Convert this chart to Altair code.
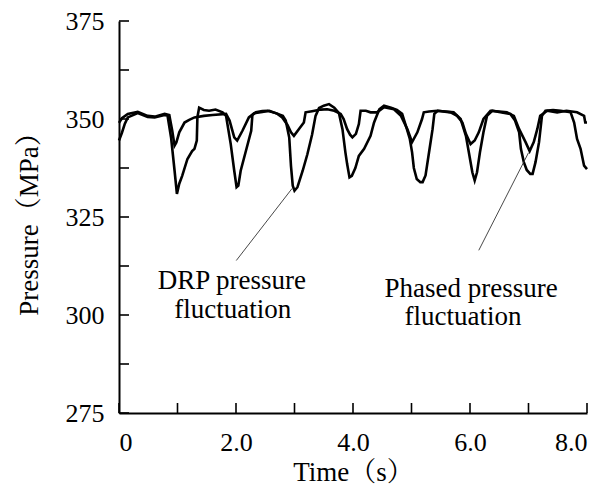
import altair as alt
import pandas as pd

# ---------------- data ----------------
drp_t = [0.00, 0.05, 0.10, 0.15, 0.32, 0.49, 0.61, 0.78, 0.83, 0.89, 0.95, 0.99,
         1.03, 1.08, 1.17, 1.25, 1.29, 1.33, 1.34, 1.37, 1.45, 1.54, 1.65, 1.77,
         1.83, 1.91, 1.97, 2.01, 2.04, 2.08, 2.17, 2.26, 2.28, 2.34, 2.45, 2.54,
         2.68, 2.80, 2.85, 2.91, 2.94, 2.97, 3.00, 3.05, 3.14, 3.22, 3.30, 3.36,
         3.42, 3.50, 3.59, 3.68, 3.76, 3.82, 3.87, 3.90, 3.94, 3.98, 4.04, 4.10,
         4.19, 4.30, 4.36, 4.45, 4.53, 4.65, 4.75, 4.84, 4.92, 4.97, 5.01, 5.04,
         5.09, 5.15, 5.19, 5.24, 5.30, 5.36, 5.39, 5.45, 5.58, 5.72, 5.84, 5.93,
         5.98, 6.04, 6.08, 6.12, 6.17, 6.23, 6.29, 6.38, 6.52, 6.69, 6.77, 6.84,
         6.87, 6.92, 6.97, 7.03, 7.07, 7.12, 7.18, 7.23, 7.29, 7.42, 7.55, 7.72,
         7.78, 7.83, 7.89, 7.95, 8.00]
drp_p = [344.5, 346.5, 348.8, 350.4, 351.5, 350.5, 350.4, 351.0, 350.8, 345.3, 336.8, 330.9,
         333.5, 335.5, 339.8, 341.8, 342.4, 344.5, 350.4, 352.9, 352.3, 352.1, 352.4, 351.7,
         350.8, 343.6, 336.8, 332.6, 333.0, 336.8, 341.9, 347.0, 351.0, 351.7, 352.0, 352.1,
         351.5, 350.8, 349.6, 345.3, 338.0, 333.0, 331.7, 332.6, 336.8, 341.0, 346.0, 350.8,
         352.8, 353.4, 353.8, 352.9, 351.5, 347.4, 341.5, 338.5, 335.1, 335.5, 337.5, 340.6,
         342.4, 345.7, 349.1, 352.5, 353.4, 352.9, 352.3, 351.3, 347.5, 345.0, 341.5, 337.5,
         334.7, 333.9, 333.9, 335.6, 341.5, 347.4, 351.3, 352.1, 351.9, 351.7, 350.0, 345.7,
         341.5, 336.4, 334.3, 336.4, 341.5, 346.6, 350.8, 352.1, 351.7, 351.3, 349.6, 346.6,
         342.4, 339.0, 337.0, 336.0, 336.0, 339.0, 344.1, 350.8, 352.1, 352.3, 352.1, 351.7,
         349.1, 344.9, 342.4, 338.1, 337.2]

phased_t = [0.00, 0.05, 0.15, 0.32, 0.49, 0.61, 0.78, 0.86, 0.91, 0.95, 0.98, 1.03,
            1.12, 1.20, 1.29, 1.45, 1.60, 1.83, 1.89, 1.97, 2.02, 2.11, 2.22, 2.31,
            2.45, 2.57, 2.71, 2.79, 2.88, 2.94, 2.99, 3.08, 3.16, 3.19, 3.30, 3.45,
            3.56, 3.68, 3.79, 3.84, 3.90, 3.95, 3.99, 4.05, 4.10, 4.13, 4.22, 4.30,
            4.41, 4.53, 4.70, 4.82, 4.93, 5.01, 5.10, 5.18, 5.21, 5.30, 5.44, 5.67,
            5.78, 5.87, 5.93, 6.01, 6.08, 6.15, 6.23, 6.35, 6.50, 6.63, 6.75, 6.84,
            6.95, 7.02, 7.09, 7.15, 7.20, 7.32, 7.49, 7.65, 7.83, 7.95, 7.97, 8.00]
phased_p = [349.0, 350.2, 351.3, 351.8, 350.8, 350.6, 351.3, 351.0, 347.0, 343.2, 344.0, 346.6,
            349.1, 349.8, 350.4, 350.8, 351.0, 351.3, 349.6, 345.3, 344.5, 347.0, 350.4, 351.5,
            351.8, 352.1, 351.3, 350.4, 348.5, 346.6, 345.7, 347.5, 349.1, 351.7, 352.0, 352.4,
            352.5, 352.1, 351.3, 350.0, 347.4, 346.0, 345.3, 346.2, 348.7, 352.1, 352.1, 351.7,
            351.7, 353.0, 352.5, 350.8, 347.4, 344.1, 346.6, 350.0, 351.7, 351.9, 352.1, 351.7,
            350.8, 349.1, 346.2, 343.6, 344.5, 346.6, 350.0, 352.1, 351.9, 351.7, 350.8, 347.4,
            344.1, 341.8, 344.1, 347.4, 350.8, 352.1, 351.7, 352.1, 351.7, 350.8, 349.1, 349.1]

# annotation leader lines (start at label, end at curve)
drp_leader_t = [2.005, 2.96]
drp_leader_p = [313.9, 332.3]
phased_leader_t = [6.15, 7.00]
phased_leader_p = [316.5, 341.4]

# annotation texts
note_text = ["DRP pressure", "fluctuation", "Phased pressure", "fluctuation"]
note_t = [1.93, 1.945, 6.02, 5.88]
note_p = [308.6, 301.4, 306.6, 299.6]

# axes
x_label_vals = [0, 2, 4, 6, 8]
y_label_vals = [275, 300, 325, 350, 375]
x_tick_vals = [0, 1, 2, 3, 4, 5, 6, 7, 8]
y_tick_vals = [275, 287.5, 300, 312.5, 325, 337.5, 350, 362.5, 375]
x_title = "Time（s）"
y_title = "Pressure（MPa）"

FONT = "Liberation Serif, Noto Serif CJK SC, Noto Sans CJK SC"
xs = alt.Scale(domain=[0, 8], nice=False, zero=False)
ys = alt.Scale(domain=[275, 375], nice=False, zero=False)

lines_df = pd.concat([
    pd.DataFrame({"t": drp_t, "p": drp_p, "s": "DRP"}),
    pd.DataFrame({"t": phased_t, "p": phased_p, "s": "Phased"}),
])
leader_df = pd.concat([
    pd.DataFrame({"t": drp_leader_t, "p": drp_leader_p, "s": "DRP"}),
    pd.DataFrame({"t": phased_leader_t, "p": phased_leader_p, "s": "Phased"}),
])
notes_df = pd.DataFrame({"t": note_t, "p": note_p, "label": note_text})
xt_df = pd.DataFrame({"t": x_tick_vals})
yt_df = pd.DataFrame({"p": y_tick_vals})

base_x = alt.Axis(values=x_label_vals, labelExpr="datum.value == 0 ? '0' : format(datum.value, '.1f')",
                  tickSize=0, labelFont=FONT, labelFontSize=26, labelColor="black",
                  labelPadding=16, domainColor="black", domainWidth=2, grid=False,
                  title=x_title, titleFont=FONT, titleFontSize=27,
                  titleFontWeight="normal", titleColor="black", titlePadding=4)
base_y = alt.Axis(values=y_label_vals, tickSize=0, labelFont=FONT, labelFontSize=26,
                  labelColor="black", labelPadding=15, domainColor="black", domainWidth=2,
                  grid=False, title=y_title, titleFont=FONT, titleFontSize=27,
                  titleFontWeight="normal", titleColor="black", titlePadding=22)

X = alt.X("t:Q", scale=xs, axis=base_x)
Y = alt.Y("p:Q", scale=ys, axis=base_y)

curves = alt.Chart(lines_df).mark_line(color="black", strokeWidth=2.6).encode(
    x=X, y=Y, detail="s:N",
)

leaders = alt.Chart(leader_df).mark_line(color="#333333", strokeWidth=0.9).encode(
    x=X, y=Y, detail="s:N",
)

notes = alt.Chart(notes_df).mark_text(font=FONT, fontSize=27, color="black",
                                      align="center", baseline="middle").encode(
    x=X, y=Y, text="label:N",
)

xticks = alt.Chart(xt_df).mark_rule(color="black", strokeWidth=1.6).encode(
    x=X, y=alt.value(392), y2=alt.value(382),
)
yticks = alt.Chart(yt_df).mark_rule(color="black", strokeWidth=1.6).encode(
    y=Y, x=alt.value(0), x2=alt.value(10),
)

chart = alt.layer(curves, xticks, yticks, leaders, notes).properties(
    width=468, height=392,
    autosize=alt.AutoSizeParams(type="none"),
    padding={"left": 111, "top": 13, "right": 18, "bottom": 72},
    background="white",
).configure_view(stroke=None)

chart.save("out.html", embed_options={"renderer": "svg", "actions": False})
